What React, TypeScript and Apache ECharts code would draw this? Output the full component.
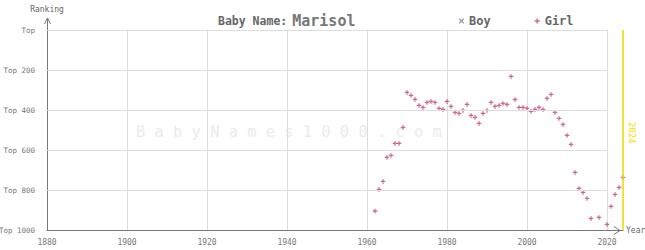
import React, { useEffect, useRef } from "react";
import * as echarts from "echarts";

const years = [
  1962, 1963, 1964, 1965, 1966, 1967, 1968, 1969, 1970, 1971, 1972, 1973, 1974, 1975, 1976, 1977,
  1978, 1979, 1980, 1981, 1982, 1983, 1984, 1985, 1986, 1987, 1988, 1989, 1990, 1991, 1992, 1993,
  1994, 1995, 1996, 1997, 1998, 1999, 2000, 2001, 2002, 2003, 2004, 2005, 2006, 2007, 2008, 2009,
  2010, 2011, 2012, 2013, 2014, 2015, 2016, 2018, 2020, 2021, 2022, 2023, 2024,
];
const girlRanks = [
  905, 797, 757, 637, 627, 567, 567, 487, 312, 327, 347, 377, 387, 362, 357, 362,
  392, 397, 357, 382, 412, 417, 402, 372, 427, 437, 467, 417, 402, 362, 382, 377,
  367, 372, 232, 347, 387, 387, 392, 407, 397, 387, 397, 342, 322, 412, 442, 472,
  527, 572, 712, 792, 812, 842, 942, 937, 972, 882, 822, 787, 737,
];
const boyRanks: [number, number][] = [];
const gridRanks = [0, 200, 400, 600, 800];
const currentYear = 2024;
const xMin = 1880;
const xGridEnd = 2020;

const plusPath =
  "path://M1.8,0 L3.2,0 L3.2,1.8 L5,1.8 L5,3.2 L3.2,3.2 L3.2,5 L1.8,5 L1.8,3.2 L0,3.2 L0,1.8 L1.8,1.8 Z";
const crossPath =
  "path://M0,0 L1,0 L2.5,1.5 L4,0 L5,0 L5,1 L3.5,2.5 L5,4 L5,5 L4,5 L2.5,3.5 L1,5 L0,5 L0,4 L1.5,2.5 L0,1 Z";

const FONT = "'DejaVu Sans Mono', monospace";
const GIRL = "#c2447a";
const BOY = "#7a8aa8";
const YELLOW = "#f5dc00";

export default function App() {
  const ref = useRef<HTMLDivElement>(null);
  useEffect(() => {
    if (!ref.current) return;
    const chart = echarts.init(ref.current, null, { renderer: "svg" });
    chart.setOption({
      animation: false,
      backgroundColor: "#ffffff",
      title: {
        left: 213,
        top: 7,
        text: "{a|Baby Name:} {b|Marisol}",
        textStyle: {
          rich: {
            a: { fontFamily: FONT, fontSize: 11.5, fontWeight: "bold", color: "#666" },
            b: { fontFamily: FONT, fontSize: 15, color: "#777" },
          },
        },
      },
      legend: {
        left: 454,
        top: 10,
        itemWidth: 5,
        itemHeight: 5,
        itemGap: 44,
        data: [
          { name: "Boy", icon: crossPath, itemStyle: { color: BOY } },
          { name: "Girl", icon: plusPath, itemStyle: { color: GIRL } },
        ],
        textStyle: { fontFamily: FONT, fontSize: 12, fontWeight: "bold", color: "#666" },
      },
      grid: {
        left: 47,
        top: 30,
        right: 22,
        bottom: 20,
        containLabel: false,
        outerBoundsMode: "none",
      },
      xAxis: {
        type: "value",
        min: xMin,
        max: currentYear,
        interval: 20,
        name: "Year",
        nameLocation: "end",
        nameGap: 3,
        nameTextStyle: { fontFamily: FONT, fontSize: 8, color: "#666" },
        axisLine: { show: true, onZero: false, lineStyle: { color: "#777", width: 1 } },
        axisTick: { show: false },
        axisLabel: {
          fontFamily: FONT,
          fontSize: 8,
          color: "#777",
          margin: 8,
          showMaxLabel: false,
          formatter: (v: number) => String(v),
        },
        splitLine: { show: true, lineStyle: { color: "#ddd", width: 1 } },
      },
      yAxis: {
        type: "value",
        inverse: true,
        min: 0,
        max: 1000,
        interval: 200,
        name: "Ranking",
        nameLocation: "start",
        nameGap: 17,
        nameTextStyle: { fontFamily: FONT, fontSize: 8, color: "#666", align: "center" },
        axisLine: { show: true, onZero: false, lineStyle: { color: "#777", width: 1 } },
        axisTick: { show: false },
        axisLabel: {
          fontFamily: FONT,
          fontSize: 7.5,
          color: "#777",
          margin: 12,
          formatter: (v: number) => (v === 0 ? "Top" : "Top " + v),
        },
        splitLine: { show: false },
      },
      series: [
        {
          name: "gridlines",
          type: "scatter",
          data: [],
          z: 1,
          silent: true,
          markLine: {
            silent: true,
            symbol: ["none", "none"],
            label: { show: false },
            lineStyle: { color: "#ddd", width: 1, type: "solid" },
            data: [
              ...gridRanks.map((r) => [{ coord: [xMin, r] }, { coord: [xGridEnd, r] }]),
              { xAxis: currentYear, lineStyle: { color: YELLOW, width: 1.5, type: "solid" } },
            ],
          },
        },
        {
          name: "Boy",
          type: "scatter",
          data: boyRanks,
          symbol: crossPath,
          symbolSize: 5,
          itemStyle: { color: BOY },
          z: 3,
        },
        {
          name: "Girl",
          type: "scatter",
          data: years.map((y, i) => [y, girlRanks[i]]),
          symbol: plusPath,
          symbolSize: 4.5,
          itemStyle: { color: GIRL },
          z: 4,
        },
      ],
      graphic: [
        {
          type: "text",
          x: 136,
          y: 124,
          silent: true,
          z: 0,
          style: {
            text: "B a b y N a m e s 1 0 0 0 . c o m",
            fontFamily: "'DejaVu Sans Mono', monospace",
            fontSize: 15.4,
            fill: "#ebebeb",
          },
        },
        {
          type: "text",
          x: 636,
          y: 122,
          rotation: -Math.PI / 2,
          silent: true,
          style: {
            text: String(currentYear),
            font: "9px 'DejaVu Sans Mono', monospace",
            fill: YELLOW,
          },
        },
        {
          type: "line",
          silent: true,
          shape: { x1: 47.5, y1: 30, x2: 47.5, y2: 18 },
          style: { stroke: "#777", lineWidth: 1 },
        },
        {
          type: "polyline",
          silent: true,
          shape: { points: [[44.5, 24], [47.5, 18], [50.5, 24]] },
          style: { stroke: "#777", lineWidth: 1, fill: null },
        },
        {
          type: "polyline",
          silent: true,
          shape: { points: [[614, 226.5], [620, 230.5], [614, 234.5]] },
          style: { stroke: "#777", lineWidth: 1, fill: null },
        },
      ],
    });
    return () => chart.dispose();
  }, []);
  return (
    <div
      ref={ref}
      style={{ position: "absolute", left: 0, top: 0, width: 645, height: 250 }}
    />
  );
}
